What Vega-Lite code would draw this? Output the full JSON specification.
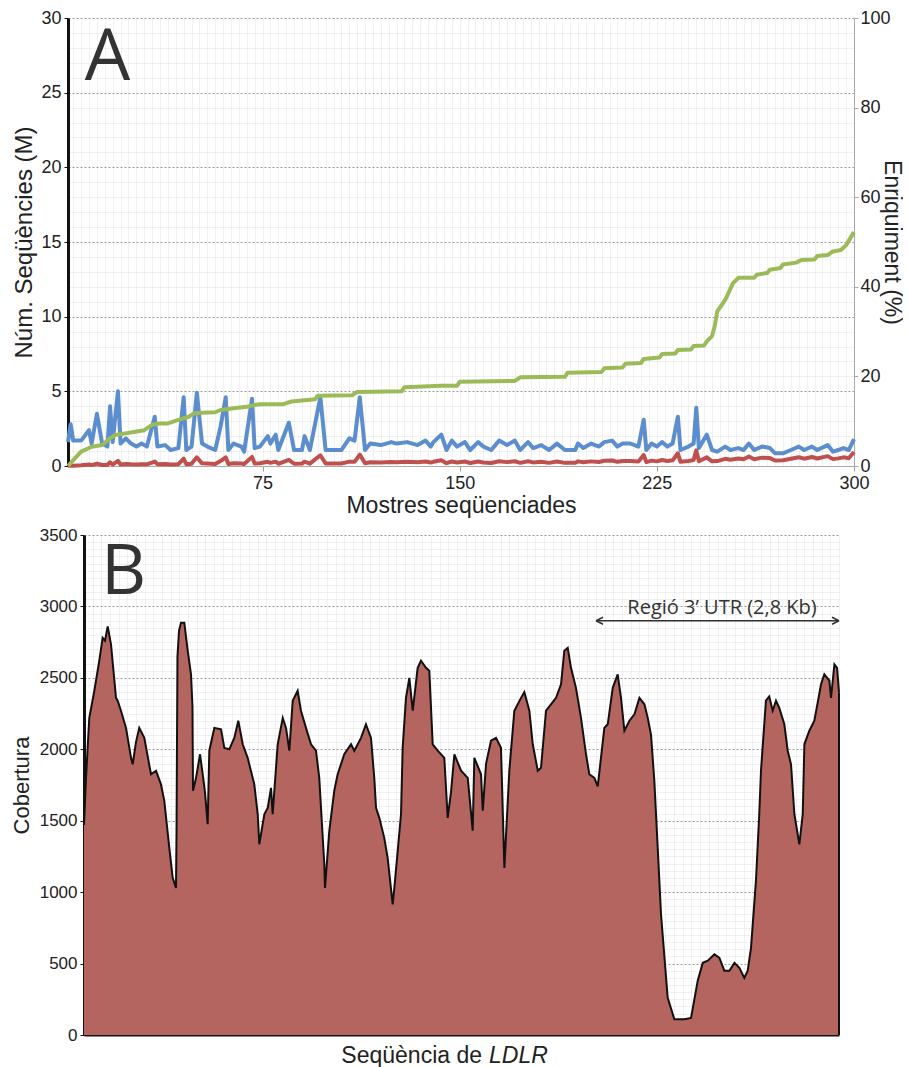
{
  "$schema": "https://vega.github.io/schema/vega-lite/v6.json",
  "background": "white",
  "padding": {"left": 10, "top": 9, "right": 0, "bottom": 0},
  "config": {
    "view": {"stroke": null},
    "font": "Liberation Sans",
    "axis": {
      "labelFont": "Liberation Sans",
      "titleFont": "Liberation Sans",
      "titleFontWeight": "normal",
      "labelColor": "#222222",
      "titleColor": "#222222",
      "labelOverlap": false,
      "labelFlush": false
    }
  },
  "datasets": {
    "mostres": [
      {"mostra": 1, "total": 1.6, "diana": 0.02}, {"mostra": 2, "total": 2.8, "diana": 0.02}, {"mostra": 3, "total": 1.7, "diana": 0.02},
      {"mostra": 6, "total": 1.7, "diana": 0.05}, {"mostra": 9, "total": 2.4, "diana": 0.10}, {"mostra": 10, "total": 1.5, "diana": 0.06},
      {"mostra": 12, "total": 3.5, "diana": 0.16}, {"mostra": 14, "total": 1.5, "diana": 0.07}, {"mostra": 16, "total": 1.3, "diana": 0.07},
      {"mostra": 17, "total": 4.0, "diana": 0.25}, {"mostra": 18, "total": 1.6, "diana": 0.10}, {"mostra": 20, "total": 5.0, "diana": 0.35},
      {"mostra": 21, "total": 1.5, "diana": 0.10}, {"mostra": 23, "total": 1.85, "diana": 0.14}, {"mostra": 25, "total": 1.5, "diana": 0.11},
      {"mostra": 27, "total": 1.3, "diana": 0.10}, {"mostra": 29, "total": 1.5, "diana": 0.12}, {"mostra": 31, "total": 1.3, "diana": 0.11},
      {"mostra": 34, "total": 3.3, "diana": 0.30}, {"mostra": 35, "total": 1.3, "diana": 0.12}, {"mostra": 38, "total": 1.4, "diana": 0.13},
      {"mostra": 40, "total": 1.07, "diana": 0.10}, {"mostra": 43, "total": 1.2, "diana": 0.12}, {"mostra": 45, "total": 4.6, "diana": 0.49},
      {"mostra": 46, "total": 1.07, "diana": 0.12}, {"mostra": 48, "total": 1.3, "diana": 0.15}, {"mostra": 50, "total": 4.9, "diana": 0.58},
      {"mostra": 52, "total": 1.5, "diana": 0.18}, {"mostra": 54, "total": 1.3, "diana": 0.16}, {"mostra": 57, "total": 1.07, "diana": 0.13},
      {"mostra": 59, "total": 2.6, "diana": 0.33}, {"mostra": 61, "total": 4.6, "diana": 0.58}, {"mostra": 62, "total": 1.07, "diana": 0.14},
      {"mostra": 64, "total": 1.5, "diana": 0.19}, {"mostra": 67, "total": 1.3, "diana": 0.17}, {"mostra": 68, "total": 0.96, "diana": 0.13},
      {"mostra": 71, "total": 4.5, "diana": 0.61}, {"mostra": 72, "total": 1.2, "diana": 0.16}, {"mostra": 74, "total": 1.3, "diana": 0.18},
      {"mostra": 77, "total": 2.0, "diana": 0.28}, {"mostra": 78, "total": 1.5, "diana": 0.21}, {"mostra": 80, "total": 2.1, "diana": 0.29},
      {"mostra": 81, "total": 1.07, "diana": 0.15}, {"mostra": 85, "total": 2.9, "diana": 0.41}, {"mostra": 87, "total": 1.07, "diana": 0.15},
      {"mostra": 90, "total": 1.07, "diana": 0.16}, {"mostra": 91, "total": 2.0, "diana": 0.29}, {"mostra": 93, "total": 1.07, "diana": 0.16},
      {"mostra": 97, "total": 4.6, "diana": 0.72}, {"mostra": 99, "total": 1.07, "diana": 0.17}, {"mostra": 101, "total": 1.07, "diana": 0.17},
      {"mostra": 105, "total": 1.07, "diana": 0.17}, {"mostra": 108, "total": 1.85, "diana": 0.29}, {"mostra": 110, "total": 1.7, "diana": 0.28},
      {"mostra": 112, "total": 4.6, "diana": 0.76}, {"mostra": 114, "total": 1.07, "diana": 0.18}, {"mostra": 116, "total": 1.5, "diana": 0.25},
      {"mostra": 120, "total": 1.4, "diana": 0.23}, {"mostra": 124, "total": 1.6, "diana": 0.27}, {"mostra": 126, "total": 1.5, "diana": 0.25},
      {"mostra": 130, "total": 1.6, "diana": 0.28}, {"mostra": 134, "total": 1.4, "diana": 0.25}, {"mostra": 137, "total": 1.7, "diana": 0.30},
      {"mostra": 139, "total": 1.3, "diana": 0.23}, {"mostra": 140, "total": 1.6, "diana": 0.28}, {"mostra": 143, "total": 2.1, "diana": 0.38},
      {"mostra": 145, "total": 1.07, "diana": 0.19}, {"mostra": 147, "total": 1.7, "diana": 0.30}, {"mostra": 149, "total": 1.3, "diana": 0.23},
      {"mostra": 152, "total": 1.6, "diana": 0.30}, {"mostra": 154, "total": 1.07, "diana": 0.20}, {"mostra": 157, "total": 1.6, "diana": 0.30},
      {"mostra": 159, "total": 1.3, "diana": 0.24}, {"mostra": 162, "total": 1.07, "diana": 0.20}, {"mostra": 165, "total": 1.7, "diana": 0.32},
      {"mostra": 168, "total": 1.4, "diana": 0.26}, {"mostra": 171, "total": 1.7, "diana": 0.32}, {"mostra": 173, "total": 1.07, "diana": 0.21},
      {"mostra": 176, "total": 1.6, "diana": 0.32}, {"mostra": 178, "total": 1.2, "diana": 0.24}, {"mostra": 181, "total": 1.4, "diana": 0.28},
      {"mostra": 184, "total": 1.07, "diana": 0.21}, {"mostra": 187, "total": 1.5, "diana": 0.30}, {"mostra": 190, "total": 1.07, "diana": 0.21},
      {"mostra": 194, "total": 1.07, "diana": 0.22}, {"mostra": 195, "total": 1.5, "diana": 0.31}, {"mostra": 197, "total": 1.2, "diana": 0.25},
      {"mostra": 200, "total": 1.5, "diana": 0.31}, {"mostra": 203, "total": 1.3, "diana": 0.27}, {"mostra": 205, "total": 1.6, "diana": 0.35},
      {"mostra": 208, "total": 1.7, "diana": 0.37}, {"mostra": 210, "total": 1.3, "diana": 0.28}, {"mostra": 212, "total": 1.5, "diana": 0.33},
      {"mostra": 215, "total": 1.5, "diana": 0.34}, {"mostra": 218, "total": 1.3, "diana": 0.30}, {"mostra": 220, "total": 3.1, "diana": 0.74},
      {"mostra": 221, "total": 1.07, "diana": 0.26}, {"mostra": 223, "total": 1.5, "diana": 0.36}, {"mostra": 225, "total": 1.3, "diana": 0.31},
      {"mostra": 227, "total": 1.6, "diana": 0.40}, {"mostra": 229, "total": 1.3, "diana": 0.33}, {"mostra": 231, "total": 1.5, "diana": 0.38},
      {"mostra": 233, "total": 3.3, "diana": 0.85}, {"mostra": 234, "total": 1.07, "diana": 0.28}, {"mostra": 237, "total": 1.3, "diana": 0.34},
      {"mostra": 239, "total": 1.5, "diana": 0.40}, {"mostra": 240, "total": 3.9, "diana": 1.05}, {"mostra": 241, "total": 1.2, "diana": 0.32},
      {"mostra": 244, "total": 2.1, "diana": 0.58}, {"mostra": 246, "total": 1.07, "diana": 0.31}, {"mostra": 248, "total": 0.96, "diana": 0.33},
      {"mostra": 251, "total": 1.3, "diana": 0.48}, {"mostra": 253, "total": 1.07, "diana": 0.42}, {"mostra": 256, "total": 1.2, "diana": 0.50},
      {"mostra": 258, "total": 1.07, "diana": 0.45}, {"mostra": 260, "total": 1.5, "diana": 0.63}, {"mostra": 262, "total": 1.07, "diana": 0.45},
      {"mostra": 265, "total": 1.3, "diana": 0.56}, {"mostra": 268, "total": 1.2, "diana": 0.53}, {"mostra": 270, "total": 0.85, "diana": 0.37},
      {"mostra": 273, "total": 0.85, "diana": 0.38}, {"mostra": 276, "total": 1.07, "diana": 0.48}, {"mostra": 279, "total": 1.3, "diana": 0.59},
      {"mostra": 281, "total": 1.07, "diana": 0.49}, {"mostra": 284, "total": 1.3, "diana": 0.60}, {"mostra": 286, "total": 1.07, "diana": 0.50},
      {"mostra": 290, "total": 1.4, "diana": 0.66}, {"mostra": 292, "total": 0.96, "diana": 0.46}, {"mostra": 294, "total": 1.07, "diana": 0.51},
      {"mostra": 296, "total": 1.2, "diana": 0.58}, {"mostra": 298, "total": 1.07, "diana": 0.52}, {"mostra": 300, "total": 1.8, "diana": 0.94}
    ],
    "enriquiment": [
      {"mostra": 1, "pct": 0}, {"mostra": 3, "pct": 1.3}, {"mostra": 6, "pct": 3.2}, {"mostra": 10, "pct": 4.3}, {"mostra": 14, "pct": 4.7},
      {"mostra": 17, "pct": 6.2}, {"mostra": 19, "pct": 6.9}, {"mostra": 24, "pct": 7.4}, {"mostra": 26, "pct": 7.6}, {"mostra": 30, "pct": 8.0},
      {"mostra": 33, "pct": 9.2}, {"mostra": 36, "pct": 9.5}, {"mostra": 39, "pct": 9.5}, {"mostra": 43, "pct": 10.3}, {"mostra": 47, "pct": 11.0},
      {"mostra": 49, "pct": 11.8}, {"mostra": 52, "pct": 11.9}, {"mostra": 57, "pct": 12.0}, {"mostra": 59, "pct": 12.5}, {"mostra": 64, "pct": 12.9},
      {"mostra": 69, "pct": 13.2}, {"mostra": 72, "pct": 13.6}, {"mostra": 74, "pct": 13.8}, {"mostra": 83, "pct": 13.8}, {"mostra": 86, "pct": 14.4},
      {"mostra": 95, "pct": 14.9}, {"mostra": 96, "pct": 15.7}, {"mostra": 109, "pct": 15.8}, {"mostra": 111, "pct": 16.5}, {"mostra": 128, "pct": 16.7},
      {"mostra": 129, "pct": 17.6}, {"mostra": 143, "pct": 17.9}, {"mostra": 149, "pct": 17.9}, {"mostra": 150, "pct": 18.8}, {"mostra": 171, "pct": 19.0},
      {"mostra": 173, "pct": 19.8}, {"mostra": 190, "pct": 19.9}, {"mostra": 191, "pct": 20.8}, {"mostra": 204, "pct": 21.0}, {"mostra": 205, "pct": 21.8},
      {"mostra": 212, "pct": 22.0}, {"mostra": 213, "pct": 22.8}, {"mostra": 219, "pct": 23.0}, {"mostra": 220, "pct": 23.9}, {"mostra": 226, "pct": 24.2},
      {"mostra": 227, "pct": 25.0}, {"mostra": 232, "pct": 25.1}, {"mostra": 233, "pct": 25.9}, {"mostra": 238, "pct": 26.0}, {"mostra": 239, "pct": 26.8},
      {"mostra": 243, "pct": 26.9}, {"mostra": 244, "pct": 27.8}, {"mostra": 246, "pct": 29.0}, {"mostra": 247, "pct": 31.2}, {"mostra": 248, "pct": 34.5},
      {"mostra": 251, "pct": 37.1}, {"mostra": 254, "pct": 40.8}, {"mostra": 256, "pct": 42.0}, {"mostra": 262, "pct": 42.0}, {"mostra": 263, "pct": 42.7},
      {"mostra": 267, "pct": 43.1}, {"mostra": 268, "pct": 43.8}, {"mostra": 272, "pct": 44.2}, {"mostra": 273, "pct": 45.0}, {"mostra": 278, "pct": 45.4},
      {"mostra": 280, "pct": 46.0}, {"mostra": 285, "pct": 46.1}, {"mostra": 286, "pct": 46.9}, {"mostra": 290, "pct": 47.1}, {"mostra": 292, "pct": 47.9},
      {"mostra": 295, "pct": 48.2}, {"mostra": 297, "pct": 49.3}, {"mostra": 300, "pct": 52.2}
    ],
    "cobertura": [
      {"pos": 0, "cob": 1470}, {"pos": 23, "cob": 1800}, {"pos": 61, "cob": 2220}, {"pos": 119, "cob": 2410}, {"pos": 176, "cob": 2620},
      {"pos": 215, "cob": 2780}, {"pos": 242, "cob": 2760}, {"pos": 273, "cob": 2860}, {"pos": 311, "cob": 2735}, {"pos": 369, "cob": 2360},
      {"pos": 388, "cob": 2340}, {"pos": 426, "cob": 2270}, {"pos": 484, "cob": 2150}, {"pos": 542, "cob": 1940}, {"pos": 561, "cob": 1895},
      {"pos": 599, "cob": 2050}, {"pos": 637, "cob": 2150}, {"pos": 695, "cob": 2080}, {"pos": 772, "cob": 1825}, {"pos": 830, "cob": 1850},
      {"pos": 887, "cob": 1755}, {"pos": 925, "cob": 1640}, {"pos": 983, "cob": 1310}, {"pos": 1022, "cob": 1100}, {"pos": 1060, "cob": 1030},
      {"pos": 1066, "cob": 1400}, {"pos": 1077, "cob": 2650}, {"pos": 1095, "cob": 2830}, {"pos": 1118, "cob": 2885}, {"pos": 1156, "cob": 2885},
      {"pos": 1195, "cob": 2690}, {"pos": 1233, "cob": 2525}, {"pos": 1250, "cob": 2300}, {"pos": 1256, "cob": 1710}, {"pos": 1291, "cob": 1800},
      {"pos": 1337, "cob": 1965}, {"pos": 1368, "cob": 1825}, {"pos": 1394, "cob": 1700}, {"pos": 1425, "cob": 1475}, {"pos": 1444, "cob": 1990},
      {"pos": 1502, "cob": 2150}, {"pos": 1579, "cob": 2140}, {"pos": 1617, "cob": 2010}, {"pos": 1674, "cob": 2000}, {"pos": 1732, "cob": 2080},
      {"pos": 1778, "cob": 2200}, {"pos": 1829, "cob": 2035}, {"pos": 1886, "cob": 1940}, {"pos": 1962, "cob": 1755}, {"pos": 2002, "cob": 1545},
      {"pos": 2020, "cob": 1335}, {"pos": 2078, "cob": 1545}, {"pos": 2117, "cob": 1590}, {"pos": 2155, "cob": 1730}, {"pos": 2174, "cob": 1545},
      {"pos": 2232, "cob": 2035}, {"pos": 2290, "cob": 2220}, {"pos": 2328, "cob": 2150}, {"pos": 2366, "cob": 1990}, {"pos": 2405, "cob": 2340},
      {"pos": 2462, "cob": 2410}, {"pos": 2500, "cob": 2270}, {"pos": 2558, "cob": 2150}, {"pos": 2616, "cob": 2035}, {"pos": 2673, "cob": 1990},
      {"pos": 2711, "cob": 1800}, {"pos": 2731, "cob": 1590}, {"pos": 2769, "cob": 1195}, {"pos": 2777, "cob": 1030}, {"pos": 2827, "cob": 1430},
      {"pos": 2884, "cob": 1710}, {"pos": 2923, "cob": 1825}, {"pos": 2999, "cob": 1965}, {"pos": 3077, "cob": 2035}, {"pos": 3115, "cob": 1990},
      {"pos": 3192, "cob": 2080}, {"pos": 3249, "cob": 2175}, {"pos": 3307, "cob": 2080}, {"pos": 3345, "cob": 1800}, {"pos": 3365, "cob": 1590},
      {"pos": 3403, "cob": 1520}, {"pos": 3460, "cob": 1380}, {"pos": 3499, "cob": 1240}, {"pos": 3557, "cob": 915}, {"pos": 3576, "cob": 1030},
      {"pos": 3615, "cob": 1290}, {"pos": 3653, "cob": 1545}, {"pos": 3672, "cob": 2010}, {"pos": 3710, "cob": 2360}, {"pos": 3749, "cob": 2500},
      {"pos": 3788, "cob": 2270}, {"pos": 3845, "cob": 2570}, {"pos": 3883, "cob": 2620}, {"pos": 3941, "cob": 2570}, {"pos": 3979, "cob": 2550},
      {"pos": 4018, "cob": 2035}, {"pos": 4076, "cob": 1990}, {"pos": 4152, "cob": 1940}, {"pos": 4191, "cob": 1520}, {"pos": 4229, "cob": 1700},
      {"pos": 4268, "cob": 1965}, {"pos": 4345, "cob": 1850}, {"pos": 4422, "cob": 1800}, {"pos": 4479, "cob": 1430}, {"pos": 4498, "cob": 1940},
      {"pos": 4575, "cob": 1825}, {"pos": 4595, "cob": 1570}, {"pos": 4633, "cob": 1900}, {"pos": 4690, "cob": 2060}, {"pos": 4748, "cob": 2080},
      {"pos": 4805, "cob": 2010}, {"pos": 4844, "cob": 1170}, {"pos": 4901, "cob": 1850}, {"pos": 4959, "cob": 2270}, {"pos": 5036, "cob": 2360},
      {"pos": 5074, "cob": 2400}, {"pos": 5132, "cob": 2270}, {"pos": 5171, "cob": 2035}, {"pos": 5229, "cob": 1850}, {"pos": 5266, "cob": 1870},
      {"pos": 5324, "cob": 2270}, {"pos": 5381, "cob": 2315}, {"pos": 5439, "cob": 2360}, {"pos": 5497, "cob": 2455}, {"pos": 5535, "cob": 2690},
      {"pos": 5574, "cob": 2710}, {"pos": 5612, "cob": 2570}, {"pos": 5669, "cob": 2430}, {"pos": 5727, "cob": 2220}, {"pos": 5785, "cob": 1965},
      {"pos": 5823, "cob": 1825}, {"pos": 5881, "cob": 1800}, {"pos": 5920, "cob": 1740}, {"pos": 5996, "cob": 2150}, {"pos": 6035, "cob": 2175},
      {"pos": 6093, "cob": 2430}, {"pos": 6150, "cob": 2525}, {"pos": 6188, "cob": 2360}, {"pos": 6227, "cob": 2130}, {"pos": 6285, "cob": 2200},
      {"pos": 6343, "cob": 2245}, {"pos": 6400, "cob": 2360}, {"pos": 6458, "cob": 2315}, {"pos": 6496, "cob": 2220}, {"pos": 6534, "cob": 2100},
      {"pos": 6572, "cob": 1780}, {"pos": 6611, "cob": 1310}, {"pos": 6649, "cob": 845}, {"pos": 6726, "cob": 260}, {"pos": 6803, "cob": 110},
      {"pos": 6918, "cob": 110}, {"pos": 6995, "cob": 120}, {"pos": 7072, "cob": 380}, {"pos": 7130, "cob": 505}, {"pos": 7188, "cob": 520},
      {"pos": 7264, "cob": 565}, {"pos": 7322, "cob": 540}, {"pos": 7379, "cob": 450}, {"pos": 7437, "cob": 450}, {"pos": 7495, "cob": 505},
      {"pos": 7552, "cob": 470}, {"pos": 7609, "cob": 400}, {"pos": 7648, "cob": 450}, {"pos": 7686, "cob": 610}, {"pos": 7743, "cob": 1080},
      {"pos": 7781, "cob": 1545}, {"pos": 7801, "cob": 1850}, {"pos": 7858, "cob": 2340}, {"pos": 7896, "cob": 2370}, {"pos": 7936, "cob": 2270},
      {"pos": 7974, "cob": 2340}, {"pos": 8012, "cob": 2290}, {"pos": 8070, "cob": 2175}, {"pos": 8109, "cob": 1990}, {"pos": 8147, "cob": 1895},
      {"pos": 8186, "cob": 1545}, {"pos": 8243, "cob": 1335}, {"pos": 8282, "cob": 1545}, {"pos": 8301, "cob": 2035}, {"pos": 8358, "cob": 2130},
      {"pos": 8416, "cob": 2200}, {"pos": 8493, "cob": 2455}, {"pos": 8531, "cob": 2525}, {"pos": 8589, "cob": 2480}, {"pos": 8608, "cob": 2360},
      {"pos": 8647, "cob": 2595}, {"pos": 8678, "cob": 2570}, {"pos": 8700, "cob": 2400}
    ]
  },
  "concat": [
    {
      "width": 786,
      "height": 448,
      "layer": [
        {
          "layer": [
            {
              "data": {"name": "mostres"},
              "mark": {"type": "line", "color": "#5b8dcf", "strokeWidth": 4, "strokeJoin": "round"},
              "encoding": {
                "x": {
                  "field": "mostra",
                  "type": "quantitative",
                  "scale": {"domain": [1, 300], "nice": false, "zero": false},
                  "axis": {
                    "title": "Mostres seqüenciades",
                    "values": [3,6,9,12,15,18,21,24,27,30,33,36,39,42,45,48,51,54,57,60,63,66,69,72,75,78,81,84,87,90,93,96,99,102,105,108,111,114,117,120,123,126,129,132,135,138,141,144,147,150,153,156,159,162,165,168,171,174,177,180,183,186,189,192,195,198,201,204,207,210,213,216,219,222,225,228,231,234,237,240,243,246,249,252,255,258,261,264,267,270,273,276,279,282,285,288,291,294,297,300],
                    "format": "d",
                    "labelExpr": "datum.value % 75 === 0 ? datum.label : ''",
                    "labelOverlap": false,
                    "labelFontSize": 18,
                    "labelPadding": 3,
                    "tickSize": 5,
                    "tickColor": "#999999",
                    "tickOpacity": {"condition": {"test": "datum.value % 75 === 0", "value": 1}, "value": 0},
                    "domainColor": "#aaaaaa",
                    "grid": true,
                    "gridColor": "#e2e2e2",
                    "gridDash": [1, 1],
                    "titleFontSize": 23,
                    "titlePadding": 2
                  }
                },
                "y": {
                  "field": "total",
                  "type": "quantitative",
                  "scale": {"domain": [0, 30], "nice": false},
                  "axis": {
                    "title": "Núm. Seqüències (M)",
                    "orient": "left",
                    "tickCount": 60,
                    "format": "d",
                    "labelExpr": "datum.value % 5 === 0 ? datum.label : ''",
                    "labelOverlap": false,
                    "labelFontSize": 18,
                    "labelPadding": 3,
                    "tickSize": 4,
                    "tickColor": "#111111",
                    "tickOpacity": {"condition": {"test": "datum.value % 5 === 0", "value": 1}, "value": 0},
                    "domainColor": "#111111",
                    "domainWidth": 3,
                    "grid": true,
                    "gridColor": {"condition": {"test": "datum.value % 5 === 0", "value": "#9a9a9a"}, "value": "#e2e2e2"},
                    "gridDash": {"condition": {"test": "datum.value % 5 === 0", "value": [2, 2]}, "value": [1, 1]},
                    "titleFontSize": 24,
                    "titlePadding": 4
                  }
                }
              }
            },
            {
              "data": {"name": "mostres"},
              "mark": {"type": "line", "color": "#c0504d", "strokeWidth": 4, "strokeJoin": "round"},
              "encoding": {
                "x": {
                  "field": "mostra",
                  "type": "quantitative",
                  "scale": {"domain": [1, 300], "nice": false, "zero": false},
                  "axis": {
                    "title": "Mostres seqüenciades",
                    "values": [3,6,9,12,15,18,21,24,27,30,33,36,39,42,45,48,51,54,57,60,63,66,69,72,75,78,81,84,87,90,93,96,99,102,105,108,111,114,117,120,123,126,129,132,135,138,141,144,147,150,153,156,159,162,165,168,171,174,177,180,183,186,189,192,195,198,201,204,207,210,213,216,219,222,225,228,231,234,237,240,243,246,249,252,255,258,261,264,267,270,273,276,279,282,285,288,291,294,297,300],
                    "format": "d",
                    "labelExpr": "datum.value % 75 === 0 ? datum.label : ''",
                    "labelOverlap": false,
                    "labelFontSize": 18,
                    "labelPadding": 3,
                    "tickSize": 5,
                    "tickColor": "#999999",
                    "tickOpacity": {"condition": {"test": "datum.value % 75 === 0", "value": 1}, "value": 0},
                    "domainColor": "#aaaaaa",
                    "grid": true,
                    "gridColor": "#e2e2e2",
                    "gridDash": [1, 1],
                    "titleFontSize": 23,
                    "titlePadding": 2
                  }
                },
                "y": {"field": "diana", "type": "quantitative", "scale": {"domain": [0, 30], "nice": false}}
              }
            },
            {
              "data": {"values": [{"lletra": "A"}]},
              "mark": {"type": "text", "font": "Open Sans", "fontSize": 72, "color": "#333333", "align": "center", "baseline": "alphabetic"},
              "encoding": {
                "x": {
                  "datum": 16,
                  "type": "quantitative",
                  "scale": {"domain": [1, 300], "nice": false, "zero": false},
                  "axis": {
                    "title": "Mostres seqüenciades",
                    "values": [3,6,9,12,15,18,21,24,27,30,33,36,39,42,45,48,51,54,57,60,63,66,69,72,75,78,81,84,87,90,93,96,99,102,105,108,111,114,117,120,123,126,129,132,135,138,141,144,147,150,153,156,159,162,165,168,171,174,177,180,183,186,189,192,195,198,201,204,207,210,213,216,219,222,225,228,231,234,237,240,243,246,249,252,255,258,261,264,267,270,273,276,279,282,285,288,291,294,297,300],
                    "format": "d",
                    "labelExpr": "datum.value % 75 === 0 ? datum.label : ''",
                    "labelOverlap": false,
                    "labelFontSize": 18,
                    "labelPadding": 3,
                    "tickSize": 5,
                    "tickColor": "#999999",
                    "tickOpacity": {"condition": {"test": "datum.value % 75 === 0", "value": 1}, "value": 0},
                    "domainColor": "#aaaaaa",
                    "grid": true,
                    "gridColor": "#e2e2e2",
                    "gridDash": [1, 1],
                    "titleFontSize": 23,
                    "titlePadding": 2
                  }
                },
                "y": {"datum": 25.85, "type": "quantitative"},
                "text": {"field": "lletra"}
              }
            }
          ]
        },
        {
          "data": {"name": "enriquiment"},
          "mark": {"type": "line", "color": "#9bbb59", "strokeWidth": 4, "strokeJoin": "round"},
          "encoding": {
            "x": {
              "field": "mostra",
              "type": "quantitative",
              "scale": {"domain": [1, 300], "nice": false, "zero": false},
              "axis": {
                "title": "Mostres seqüenciades",
                "values": [3,6,9,12,15,18,21,24,27,30,33,36,39,42,45,48,51,54,57,60,63,66,69,72,75,78,81,84,87,90,93,96,99,102,105,108,111,114,117,120,123,126,129,132,135,138,141,144,147,150,153,156,159,162,165,168,171,174,177,180,183,186,189,192,195,198,201,204,207,210,213,216,219,222,225,228,231,234,237,240,243,246,249,252,255,258,261,264,267,270,273,276,279,282,285,288,291,294,297,300],
                "format": "d",
                "labelExpr": "datum.value % 75 === 0 ? datum.label : ''",
                "labelOverlap": false,
                "labelFontSize": 18,
                "labelPadding": 3,
                "tickSize": 5,
                "tickColor": "#999999",
                "tickOpacity": {"condition": {"test": "datum.value % 75 === 0", "value": 1}, "value": 0},
                "domainColor": "#aaaaaa",
                "grid": true,
                "gridColor": "#e2e2e2",
                "gridDash": [1, 1],
                "titleFontSize": 23,
                "titlePadding": 2
              }
            },
            "y": {
              "field": "pct",
              "type": "quantitative",
              "scale": {"domain": [0, 100], "nice": false},
              "axis": {
                "title": "Enriquiment (%)",
                "orient": "right",
                "values": [0, 20, 40, 60, 80, 100],
                "format": "d",
                "labelOverlap": false,
                "labelFontSize": 18,
                "labelPadding": 2,
                "tickSize": 4,
                "tickColor": "#aaaaaa",
                "domainColor": "#aaaaaa",
                "grid": false,
                "titleFontSize": 23,
                "titlePadding": -11
              }
            }
          }
        }
      ],
      "resolve": {"scale": {"y": "independent"}}
    },
    {
      "width": 771,
      "height": 500,
      "layer": [
        {
          "data": {"name": "cobertura"},
          "mark": {"type": "area", "color": "#b5655f", "opacity": 1, "line": {"color": "#111111", "strokeWidth": 2}},
          "encoding": {
            "x": {
              "field": "pos",
              "type": "quantitative",
              "scale": {"domain": [0, 8700], "range": [16, 771], "nice": false, "zero": false},
              "axis": {
                "title": null,
                "labels": false,
                "ticks": false,
                "tickCount": 100,
                "domainColor": "#111111",
                "domainWidth": 2,
                "grid": true,
                "gridColor": "#e2e2e2",
                "gridDash": [1, 1]
              }
            },
            "y": {
              "field": "cob",
              "type": "quantitative",
              "scale": {"domain": [0, 3500], "nice": false},
              "axis": {
                "title": "Cobertura",
                "offset": -16,
                "tickCount": 70,
                "format": "d",
                "labelExpr": "datum.value % 500 === 0 ? datum.label : ''",
                "labelOverlap": false,
                "labelFontSize": 17,
                "labelPadding": 3,
                "tickSize": 4,
                "tickColor": "#111111",
                "tickOpacity": {"condition": {"test": "datum.value % 500 === 0", "value": 1}, "value": 0},
                "domainColor": "#111111",
                "domainWidth": 3,
                "grid": true,
                "gridColor": {"condition": {"test": "datum.value % 500 === 0", "value": "#9a9a9a"}, "value": "#e2e2e2"},
                "gridDash": {"condition": {"test": "datum.value % 500 === 0", "value": [2, 2]}, "value": [1, 1]},
                "titleFontSize": 22,
                "titlePadding": 6
              }
            }
          }
        },
        {
          "data": {"name": "cobertura"},
          "transform": [{"filter": "datum.pos === 8700"}],
          "mark": {"type": "rule", "color": "#111111", "strokeWidth": 2},
          "encoding": {
            "x": {"field": "pos", "type": "quantitative"},
            "y": {"field": "cob", "type": "quantitative"},
            "y2": {"datum": 0}
          }
        },
        {
          "data": {"values": [{"regio": "3' UTR"}]},
          "mark": {"type": "rule", "color": "#333333", "strokeWidth": 1.5},
          "encoding": {
            "x": {"datum": 5900, "type": "quantitative"},
            "x2": {"datum": 8700},
            "y": {"datum": 2900, "type": "quantitative"}
          }
        },
        {
          "data": {"values": [{"extrem": "inici"}]},
          "mark": {"type": "point", "shape": "M0,0L2,-1M0,0L2,1", "size": 49, "filled": false, "stroke": "#333333", "strokeWidth": 1.5, "opacity": 1},
          "encoding": {
            "x": {"datum": 5900, "type": "quantitative"},
            "y": {"datum": 2900, "type": "quantitative"}
          }
        },
        {
          "data": {"values": [{"extrem": "final"}]},
          "mark": {"type": "point", "shape": "M0,0L-2,-1M0,0L-2,1", "size": 49, "filled": false, "stroke": "#333333", "strokeWidth": 1.5, "opacity": 1},
          "encoding": {
            "x": {"datum": 8700, "type": "quantitative"},
            "y": {"datum": 2900, "type": "quantitative"}
          }
        },
        {
          "data": {"values": [{"etiqueta": "Regió 3’ UTR (2,8 Kb)"}]},
          "mark": {"type": "text", "font": "Open Sans", "fontSize": 20, "color": "#333333", "align": "center", "baseline": "alphabetic"},
          "encoding": {
            "x": {"datum": 7352, "type": "quantitative"},
            "y": {"datum": 2950, "type": "quantitative"},
            "text": {"field": "etiqueta"}
          }
        },
        {
          "data": {"values": [{"lletra": "B"}]},
          "mark": {"type": "text", "font": "Open Sans", "fontSize": 70, "color": "#333333", "align": "center", "baseline": "alphabetic"},
          "encoding": {
            "x": {"datum": 455, "type": "quantitative"},
            "y": {"datum": 3087, "type": "quantitative"},
            "text": {"field": "lletra"}
          }
        },
        {
          "data": {"values": [{"titol": "Seqüència de"}]},
          "mark": {"type": "text", "fontSize": 23, "color": "#222222", "align": "right", "baseline": "alphabetic", "dx": -3},
          "encoding": {
            "x": {"datum": 4621, "type": "quantitative"},
            "y": {"datum": -196, "type": "quantitative"},
            "text": {"field": "titol"}
          }
        },
        {
          "data": {"values": [{"gen": "LDLR"}]},
          "mark": {"type": "text", "fontSize": 23, "fontStyle": "italic", "color": "#222222", "align": "left", "baseline": "alphabetic", "dx": 4},
          "encoding": {
            "x": {"datum": 4621, "type": "quantitative"},
            "y": {"datum": -196, "type": "quantitative"},
            "text": {"field": "gen"}
          }
        }
      ]
    }
  ],
  "columns": 1,
  "spacing": 9
}
